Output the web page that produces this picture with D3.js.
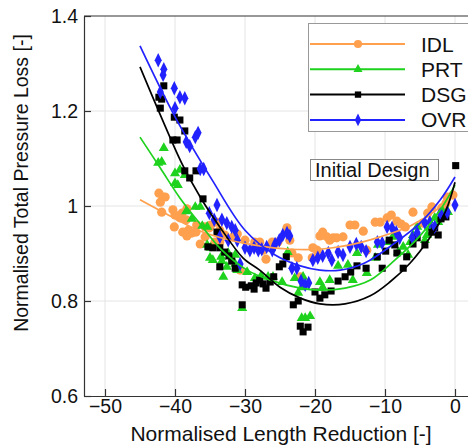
<!DOCTYPE html>
<html><head><meta charset="utf-8">
<script src="https://cdn.jsdelivr.net/npm/d3@7"></script>
<style>body{margin:0;background:#fff}svg{display:block}text{font-family:"Liberation Sans",Arial,Helvetica,sans-serif;fill:#111}</style>
</head><body><svg id="c" width="468" height="448"></svg>
<script>
const xTicks=[-50,-40,-30,-20,-10,0];
const yTicks=[0.6,0.8,1.0,1.2,1.4];
const yTickLabels=["0.6","0.8","1","1.2","1.4"];
const seriesNames=["IDL","PRT","DSG","OVR"];
const seriesColors=["#ffa04f","#1ed21e","#000000","#2222ff"];

// scatter data [x,y]
const idlPts=[[-42.3,1.027],[-41.7,1.019],[-42.1,1.008],[-41.4,1.019],[-41.9,0.987],[-40.3,0.992],[-40,0.981],[-39,0.985],[-39.3,0.975],[-38.4,0.971],[-38.3,0.994],[-40.1,0.956],[-38.9,0.945],[-38.1,0.949],[-37.6,0.943],[-37,0.945],[-36.9,0.96],[-38.3,0.937],[-36.4,0.92],[-35.7,0.956],[-35.1,0.954],[-34.9,0.96],[-34.1,0.966],[-35.7,0.935],[-34.3,0.924],[-33.6,0.924],[-33.6,0.949],[-32.9,0.939],[-31.7,0.935],[-31.1,0.941],[-30.7,0.865],[-30,0.928],[-28.6,0.924],[-27.9,0.924],[-27.4,0.907],[-27,0.888],[-26.1,0.924],[-25.3,0.924],[-24,0.954],[-23.6,0.928],[-23.3,0.901],[-22.4,0.891],[-22.1,0.851],[-20.4,0.891],[-19.7,0.907],[-20.3,0.912],[-19.3,0.937],[-18.9,0.945],[-18.3,0.935],[-17.9,0.928],[-17.4,0.933],[-16.9,0.933],[-16,0.935],[-15,0.96],[-14.3,0.96],[-13.1,0.947],[-12.6,0.907],[-11.4,0.966],[-10.7,0.966],[-9.7,0.975],[-9.1,0.981],[-8.3,0.968],[-7.7,0.962],[-7.1,0.956],[-6,0.987],[-4.6,0.964],[-3.9,0.985],[-3.3,0.998],[-1.9,0.996],[-1.3,1.006],[-1.1,1.019],[-0.3,1.023]];
const prtPts=[[-41.6,1.122],[-42.4,1.091],[-41.9,1.093],[-39.3,1.076],[-40,1.069],[-38.6,1.065],[-40,1.048],[-39.6,1.044],[-37.1,0.998],[-36.4,0.998],[-38.4,0.989],[-37.6,0.973],[-36.1,0.958],[-35.4,0.956],[-35.4,0.918],[-34.9,0.912],[-35,0.891],[-34.6,0.886],[-33.4,0.893],[-33.3,0.884],[-33.1,0.851],[-32.4,0.901],[-31.4,0.897],[-31.4,0.878],[-32.6,0.872],[-31.1,0.865],[-30.4,0.785],[-29.7,0.861],[-28.6,0.848],[-27.7,0.853],[-26.7,0.851],[-26,0.851],[-24.7,0.84],[-23.9,0.903],[-22.9,0.848],[-22.4,0.817],[-21.9,0.829],[-21.9,0.764],[-21.4,0.764],[-20.7,0.768],[-21.7,0.851],[-19.3,0.84],[-18.9,0.829],[-17.9,0.844],[-16.7,0.874],[-15.3,0.876],[-14.6,0.844],[-14,0.901],[-12.6,0.859],[-11.4,0.891],[-11,0.918],[-9.6,0.924],[-8.9,0.935],[-8.1,0.903],[-7.4,0.914],[-6.7,0.897],[-6.4,0.924],[-6,0.939],[-5.4,0.956],[-4.3,0.928],[-4,0.939],[-3.6,0.954],[-2.9,0.975],[-2.4,0.966],[-1.7,0.987],[-1,0.987]];
const dsgPts=[[-41.6,1.253],[-42.3,1.229],[-41.9,1.225],[-42.1,1.206],[-40.1,1.187],[-39.3,1.181],[-38.6,1.158],[-40.3,1.139],[-39.7,1.139],[-38.6,1.074],[-37,1.074],[-37.9,1.059],[-36,1.015],[-34,0.945],[-35.3,0.914],[-34.6,0.912],[-33.6,0.872],[-33.6,0.912],[-32.9,0.903],[-32.3,0.895],[-31.9,0.884],[-31.4,0.869],[-30.4,0.834],[-29.9,0.829],[-29.1,0.832],[-28.7,0.825],[-28.4,0.838],[-27.9,0.844],[-27.4,0.836],[-27,0.827],[-26.4,0.84],[-25.9,0.851],[-25.1,0.872],[-24.6,0.878],[-24.1,0.893],[-30.4,0.792],[-23.1,0.792],[-22.4,0.8],[-22.1,0.747],[-21.7,0.735],[-21,0.745],[-20,0.819],[-19.3,0.806],[-18.6,0.813],[-17.7,0.821],[-16.7,0.842],[-15.7,0.851],[-14.9,0.861],[-14,0.874],[-12.7,0.869],[-11.1,0.893],[-10.4,0.869],[-9.9,0.905],[-9.4,0.928],[-8.6,0.918],[-8.3,0.901],[-7.4,0.869],[-6.9,0.893],[-6,0.92],[-5.4,0.933],[-4.3,0.918],[-3.3,0.945],[-2.9,0.954],[-2.4,0.939],[-2,0.973],[-1.3,0.977],[0.1,1.085]];
const ovrPts=[[-42.4,1.307],[-41.6,1.288],[-41.7,1.276],[-42.1,1.24],[-40.1,1.248],[-39.3,1.229],[-38.6,1.227],[-40,1.206],[-36.7,1.154],[-37.1,1.145],[-38.4,1.135],[-37.9,1.126],[-36.4,1.078],[-35.9,1.078],[-34,1.002],[-35.1,0.985],[-34.4,0.971],[-33.3,0.971],[-32.6,0.964],[-31.9,0.956],[-31.4,0.949],[-33.6,0.935],[-32.4,0.928],[-31.1,0.928],[-30.7,0.878],[-30,0.912],[-29.3,0.907],[-28.7,0.912],[-28.1,0.907],[-27.6,0.909],[-26.9,0.914],[-26.1,0.907],[-25.7,0.92],[-25.1,0.928],[-24.6,0.939],[-24,0.943],[-23.6,0.937],[-23.3,0.869],[-22.6,0.869],[-22,0.842],[-21.4,0.834],[-20.9,0.838],[-20.3,0.886],[-19.6,0.891],[-18.9,0.895],[-18.1,0.901],[-17.6,0.886],[-16.7,0.903],[-16,0.897],[-15,0.914],[-14.1,0.92],[-13.4,0.914],[-12.7,0.905],[-11.1,0.924],[-10.4,0.922],[-9.7,0.956],[-9,0.954],[-8.4,0.945],[-7.9,0.933],[-6.1,0.933],[-5.4,0.943],[-4.3,0.964],[-3.6,0.966],[-2.9,0.956],[-2.1,0.985],[-1.1,0.987],[0,1.002]];

// fitted curves [x,y]
const idlFit=[[-45,1.013],[-40.7,0.979],[-36.7,0.949],[-32.1,0.928],[-27.9,0.916],[-23.6,0.909],[-19.3,0.909],[-15,0.918],[-10.7,0.935],[-6.4,0.958],[-2.9,0.989],[0,1.027]];
const prtFit=[[-45,1.145],[-42.1,1.08],[-39.3,1.017],[-36.4,0.962],[-33.3,0.907],[-29.7,0.865],[-26.4,0.844],[-22.1,0.827],[-19.3,0.823],[-15.7,0.827],[-12.1,0.844],[-8.6,0.886],[-5,0.937],[-2.1,0.992],[0,1.044]];
const dsgFit=[[-45,1.293],[-42.1,1.192],[-38.9,1.086],[-36.4,1.019],[-33.6,0.956],[-30.3,0.891],[-27.9,0.865],[-25,0.829],[-22.1,0.806],[-19.3,0.794],[-15.7,0.794],[-12.1,0.811],[-9.3,0.84],[-6.4,0.88],[-3.6,0.933],[-1.4,0.987],[0,1.05]];
const ovrFit=[[-45,1.337],[-39.9,1.185],[-34.7,1.055],[-30,0.949],[-25.7,0.897],[-22.1,0.874],[-19.3,0.865],[-16.4,0.865],[-12.9,0.88],[-8.6,0.922],[-5,0.964],[-2.1,1.013],[0,1.061]];

const svg=d3.select("#c");
const x=d3.scaleLinear().domain([-53,2]).range([84,469]);
const y=d3.scaleLinear().domain([0.6,1.4]).range([396,16]);

// grid
const g=svg.append("g");
g.selectAll(".gx").data(xTicks).join("line").attr("x1",d=>x(d)).attr("x2",d=>x(d)).attr("y1",16).attr("y2",396).attr("stroke","#e4e4e4").attr("stroke-width",1);
g.selectAll(".gy").data(yTicks.slice(1,4)).join("line").attr("x1",84).attr("x2",469).attr("y1",d=>y(d)).attr("y2",d=>y(d)).attr("stroke","#e4e4e4").attr("stroke-width",1);

// axes
const xa=svg.append("g").attr("transform","translate(0,396)").call(d3.axisBottom(x).tickValues(xTicks).tickSizeInner(-7).tickSizeOuter(0).tickPadding(12).tickFormat(d=>d<0?"\u2212"+Math.abs(d):String(d)));
const ya=svg.append("g").attr("transform","translate(84,0)").call(d3.axisLeft(y).tickValues(yTicks).tickSizeInner(-7).tickSizeOuter(0).tickPadding(6).tickFormat((d,i)=>yTickLabels[i]));
[xa,ya].forEach(a=>{a.select(".domain").attr("stroke","#333").attr("stroke-width",1.2);a.selectAll(".tick line").attr("stroke","#333").attr("stroke-width",1.2);a.selectAll("text").attr("font-size",19.5).attr("fill","#111").style("font-family","'Liberation Sans',Arial,sans-serif");});
xa.selectAll("text").attr("y",17).attr("dy","0");
ya.selectAll("text").attr("x",-6);
svg.append("line").attr("x1",84).attr("x2",469).attr("y1",16).attr("y2",16).attr("stroke","#333").attr("stroke-width",1.2);

// markers
const sym=[d3.symbolCircle,d3.symbolTriangle,d3.symbolSquare,d3.symbolDiamond];
const sizes=[66,44,50,60];
const allPts=[idlPts,prtPts,dsgPts,ovrPts];
allPts.forEach((pts,i)=>{
  svg.append("g").selectAll("path").data(pts).join("path")
    .attr("transform",d=>`translate(${x(d[0])},${y(d[1])})${i===3?" scale(0.85,1)":""}`)
    .attr("d",d3.symbol().type(sym[i]).size(sizes[i]))
    .attr("fill",seriesColors[i]);
});
// curves
const line=d3.line().x(d=>x(d[0])).y(d=>y(d[1])).curve(d3.curveCatmullRom);
[idlFit,prtFit,dsgFit,ovrFit].forEach((f,i)=>{
  svg.append("path").datum(f).attr("d",line).attr("fill","none").attr("stroke",seriesColors[i]).attr("stroke-width",1.7);
});

// legend
const lg=svg.append("g");
lg.append("rect").attr("x",308.5).attr("y",23.5).attr("width",165).attr("height",108).attr("fill","#fff").attr("stroke","#999").attr("stroke-width",1);
seriesNames.forEach((n,i)=>{
  const yy=44+i*25.3;
  lg.append("line").attr("x1",310).attr("x2",405).attr("y1",yy).attr("y2",yy).attr("stroke",seriesColors[i]).attr("stroke-width",2);
  lg.append("path").attr("transform",`translate(358,${yy})${i===3?" scale(0.85,1)":""}`).attr("d",d3.symbol().type(sym[i]).size(sizes[i]*0.8)).attr("fill",seriesColors[i]);
  lg.append("text").attr("x",421).attr("y",yy+7.5).attr("font-size",21).text(n);
});
// annotation
svg.append("rect").attr("x",310.5).attr("y",159.5).attr("width",128).attr("height",21).attr("fill","#fff").attr("stroke","#888").attr("stroke-width",1);
svg.append("text").attr("x",315).attr("y",177).attr("font-size",20).text("Initial Design");

// axis titles
svg.append("text").attr("x",281).attr("y",441).attr("text-anchor","middle").attr("font-size",21).text("Normalised Length Reduction [-]");
svg.append("text").attr("transform","translate(28,183) rotate(-90)").attr("text-anchor","middle").attr("font-size",19.5).text("Normalised Total Pressure Loss [-]");
</script></body></html>
